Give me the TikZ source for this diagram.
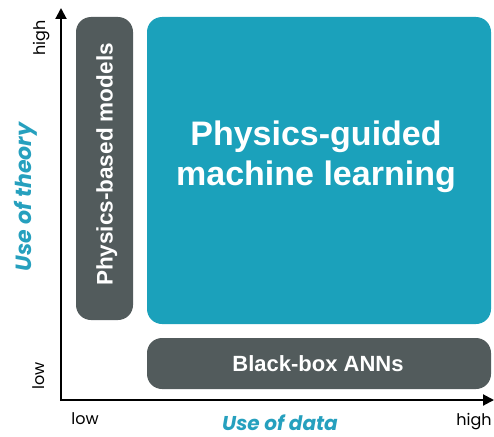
\documentclass[tikz,border=0pt]{standalone}
\usepackage{fontspec}
\setmainfont{Liberation Sans}
\newfontfamily\axfont{Poppins}
\usetikzlibrary{arrows.meta}
\definecolor{tealc}{RGB}{27,161,187}
\definecolor{grayc}{RGB}{82,91,92}
\definecolor{labc}{RGB}{38,160,190}
\begin{document}
\begin{tikzpicture}[x=1pt,y=-1pt,
  box/.style={fill=#1,draw=none,rounded corners=15pt},
  boxtext/.style={text=white,font=\bfseries\fontsize{#1}{#1}\selectfont,inner sep=0pt},
  ticklab/.style={font=\axfont\fontsize{16}{16}\selectfont,text=black,inner sep=0pt},
  axlab/.style={font=\axfont\bfseries\itshape\fontsize{#1}{#1}\selectfont,text=labc,inner sep=0pt},
  axis/.style={line width=2pt,-{Triangle[length=11pt,width=11pt]}}]
\useasboundingbox (0,0) rectangle (494,436);
% boxes
\fill[box=grayc] (76,17) rectangle (133,320);
\node (pbm) at (104.5,168.5) {};
\fill[box=tealc] (147,17) rectangle (491,324);
\node (pgml) at (319,170) {};
\fill[box=grayc] (147,338) rectangle (491,389);
\node (bb) at (319,363.5) {};
\node[boxtext=22.5,rotate=90,anchor=base] at (112.5,164.5) {Physics-based models};
\node[boxtext=34,anchor=base] (l1) at (316,145) {Physics-guided};
\node[boxtext=34,anchor=base] (l2) at (316,185) {machine learning};
\node[boxtext=22,anchor=base] at (318,371) {Black-box ANNs};
% axes
\coordinate (o) at (61,400);
\coordinate (ytop) at (61,8);
\coordinate (xend) at (494,400);
\draw[axis] ([yshift=-1pt]o) -- (ytop);
\draw[axis] ([xshift=-1pt]o) -- (xend);
% tick labels
\node[ticklab,rotate=90,anchor=base] at (45,38) {high};
\node[ticklab,rotate=90,anchor=base] at (44,376) {low};
\node[ticklab,anchor=base] at (85,424) {low};
\node[ticklab,anchor=base] at (474,425) {high};
% axis labels
\node[axlab=22,rotate=90,anchor=base] at (31,197) {Use of theory};
\node[axlab=20,anchor=base] at (280,430) {Use of data};
\end{tikzpicture}
\end{document}
